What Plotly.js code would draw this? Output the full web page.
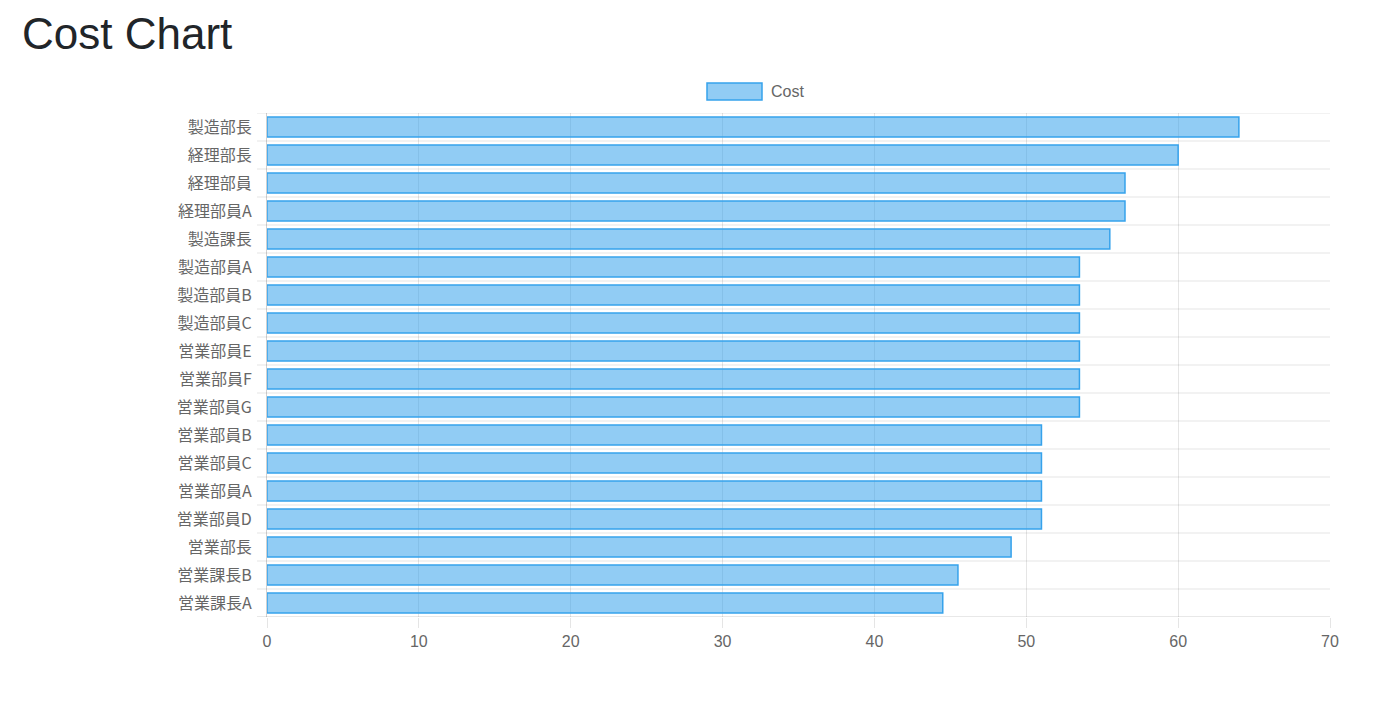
<!DOCTYPE html>
<html>
<head>
<meta charset="utf-8">
<script src="https://cdn.plot.ly/plotly-3.0.1.min.js"></script>
<style>
html,body{margin:0;padding:0;background:#fff;}
#chart{width:1400px;height:721px;}
</style>
</head>
<body>
<div id="chart"></div>
<script>
const chartTitle = "Cost Chart";
const seriesName = "Cost";
const categories = ["製造部長","経理部長","経理部員","経理部員A","製造課長","製造部員A","製造部員B","製造部員C","営業部員E","営業部員F","営業部員G","営業部員B","営業部員C","営業部員A","営業部員D","営業部長","営業課長B","営業課長A"];
const costValues = [64,60,56.5,56.5,55.5,53.5,53.5,53.5,53.5,53.5,53.5,51,51,51,51,49,45.5,44.5];
const xTicks = [0,10,20,30,40,50,60,70];

const fillColor = "rgba(54,162,235,0.55)";
const borderColor = "rgb(54,162,235)";
const gridColor = "rgba(0,0,0,0.1)";
const axisColor = "rgba(0,0,0,0.18)";
const tickFont = {family:"'Liberation Sans', 'Noto Sans CJK JP', sans-serif", size:16, color:"#666"};

const trace = {
  type:"bar",
  orientation:"h",
  x: costValues,
  y: categories,
  name: seriesName,
  marker:{color:fillColor, line:{color:borderColor, width:1.5}},
  hoverinfo:"x+y"
};

const W = 1400, H = 721;
const plotL = 267, plotR = 1330, plotT = 113, plotB = 617;
const plotW = plotR - plotL, plotH = plotB - plotT;

// category boundary grid lines + outside tick marks (Chart.js style)
const shapes = [];
for (let i = 0; i <= categories.length; i++) {
  shapes.push({
    type:"line", xref:"paper", yref:"y",
    x0:-10/plotW, x1:1, y0:i-0.5, y1:i-0.5,
    line:{color:(i === categories.length ? axisColor : gridColor), width:1}, layer:"below"
  });
}
// legend swatch
shapes.push({
  type:"rect", xref:"paper", yref:"paper",
  x0:(707-plotL)/plotW, x1:(762-plotL)/plotW,
  y0:(plotB-100)/plotH, y1:(plotB-83)/plotH,
  fillcolor:fillColor, line:{color:borderColor, width:1.5}
});

const layout = {
  width:W, height:H,
  margin:{l:plotL, r:W-plotR, t:plotT, b:H-plotB},
  paper_bgcolor:"#fff", plot_bgcolor:"#fff",
  showlegend:false,
  bargap:0.28,
  title:{
    text: chartTitle,
    xref:"container", yref:"container",
    x: 22/W, xanchor:"left",
    y: 1-34/H, yanchor:"middle",
    font:{family:"'Liberation Sans', Arial, sans-serif", size:44, color:"#212529"}
  },
  xaxis:{
    range:[0,70],
    tickvals:xTicks,
    ticktext:xTicks.map(String),
    showgrid:true, gridcolor:gridColor, gridwidth:1,
    zeroline:false,
    showline:false,
    ticks:"outside", ticklen:10, tickcolor:gridColor, tickwidth:1,
    tickfont:tickFont, fixedrange:true
  },
  yaxis:{
    type:"category",
    categoryorder:"array", categoryarray:categories,
    range:[categories.length-0.5, -0.5],
    showgrid:false, zeroline:false,
    showline:true, linecolor:axisColor, linewidth:1,
    ticks:"", ticklabelstandoff:11,
    tickfont:{family:"'Noto Sans CJK JP', 'Liberation Sans', sans-serif", size:16, color:"#666"},
    fixedrange:true
  },
  shapes:shapes,
  annotations:[{
    text: seriesName, xref:"paper", yref:"paper",
    x:(769-plotL)/plotW, y:(plotB-91.5)/plotH,
    xanchor:"left", yanchor:"middle", showarrow:false,
    font:tickFont
  }]
};

Plotly.newPlot("chart",[trace],layout,{displayModeBar:false, responsive:false});
</script>
</body>
</html>
